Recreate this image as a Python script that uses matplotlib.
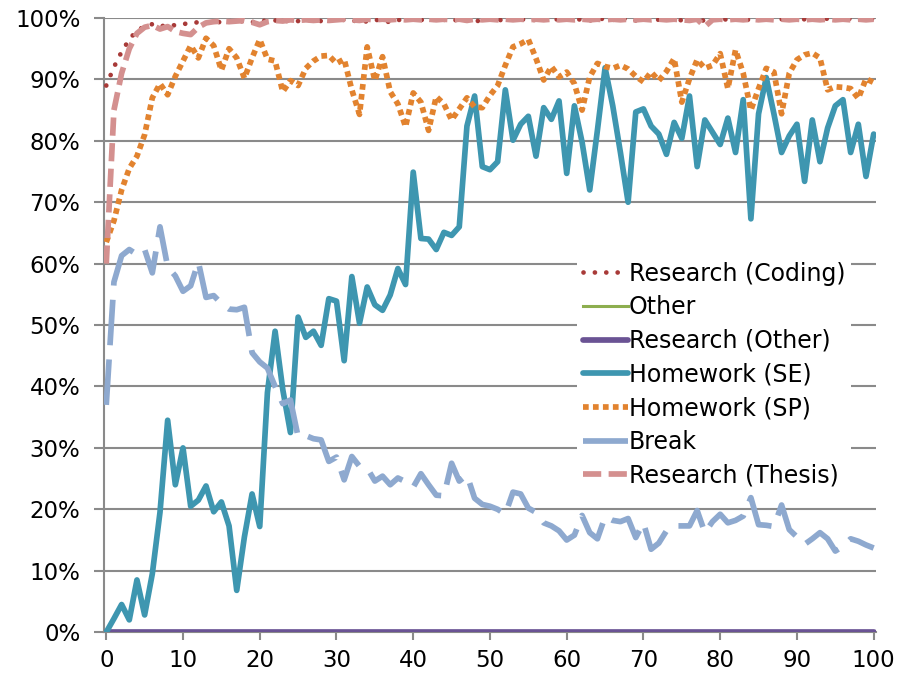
import numpy as np
import matplotlib
matplotlib.use("Agg")
import matplotlib.pyplot as plt

plt.rcParams['font.family'] = ['DejaVu Sans']

x = list(range(0, 101))

research_coding = [89, 92, 94.5, 96.5, 98, 98.6, 99, 98.6, 98.9, 98.8,
                   99.0, 99.2, 99.3, 99.2, 99.4, 99.3, 99.5, 99.4, 99.5, 99.3,
                   99.6, 99.5, 99.6, 99.4, 99.6, 99.5, 99.7, 99.6, 99.5, 99.7,
                   99.6, 99.7, 99.5, 99.6, 99.4, 99.7, 99.6, 99.3, 99.7, 99.6,
                   99.8, 99.7, 99.6, 99.8, 99.7, 99.5, 99.8, 99.7, 99.4, 99.7,
                   99.8, 99.7, 99.6, 99.8, 99.7, 99.9, 99.6, 99.8, 99.7, 99.8,
                   99.9, 99.7, 99.8, 99.6, 99.8, 99.9, 99.7, 99.8, 99.9, 99.6,
                   99.8, 99.9, 99.7, 99.8, 99.9, 99.6, 99.8, 99.9, 99.5, 99.8,
                   99.9, 99.7, 99.8, 99.9, 99.6, 99.8, 99.9, 99.7, 99.8, 99.9,
                   99.6, 99.8, 99.9, 99.7, 99.9, 99.8, 99.7, 99.9, 99.8, 99.7,
                   99.9]

other = [0] * 101
research_other = [0] * 101

homework_se = [0, 2.2, 4.5, 2.0, 8.5, 2.8, 9.5, 19.5, 34.5, 24, 30, 20.5, 21.5, 23.8, 19.6, 21.2, 17.3,
               6.8, 15.5, 22.5, 17.2, 39, 49, 39.5, 32.5, 51.3, 48, 49, 46.7, 54.3,
               53.9, 44.2, 57.9, 50.3, 56.2, 53.3, 52.4, 54.9, 59.2, 56.6,
               74.9, 64.1, 64, 62.3, 65.1, 64.6, 66, 82.4, 87.3, 75.8,
               75.3, 76.6, 88.3, 80.1, 82.7, 84, 77.5, 85.4, 83.5, 86.5,
               74.7, 85.7, 79.8, 72, 81.7, 91.9, 85.7, 78.1, 70, 84.7,
               85.2, 82.4, 81.1, 77.8, 83, 80.4, 87.3, 75.8, 83.4, 81.4,
               79.4, 83.7, 78.1, 86.7, 67.3, 84.4, 90.3, 84.4, 78.1, 80.8,
               82.7, 73.4, 83.4, 76.6, 82.1, 85.7, 86.7, 78.1, 82.7, 74.2,
               81.1]

homework_sp = [63.5, 67, 72, 75.5, 77.5, 81, 87, 89.3, 87.5, 90.5,
               93, 95.5, 93.5, 96.7, 95.5, 91.5, 95, 93.5, 90.2, 93.5,
               96.5, 93.3, 93, 88, 89.8, 89, 91.8, 93, 93.8, 93.9,
               92.6, 93.3, 88.3, 84.3, 95.3, 89.8, 93.7, 88, 86, 82.3,
               87.8, 86.3, 81.7, 87.2, 86, 83.4, 85.2, 87, 85.5, 85.4,
               87.4, 89, 92.3, 95.3, 95.8, 96.5, 93.4, 89.9, 92.1, 90.4,
               91.2, 89.3, 85, 90.4, 92.6, 92.1, 91.8, 92.3, 91.7, 90.5,
               89.6, 91.2, 89.8, 91.3, 93.4, 86.3, 90.1, 93.2, 91.8, 92.3,
               94.2, 88.5, 94.8, 91, 85, 88.5, 91.8, 91.2, 84.4, 91,
               93.2, 94, 94.3, 93.5, 88.3, 88.8, 88.7, 88.5, 86.9, 90.1,
               89.5]

break_ = [37, 57, 61.3, 62.3, 61.5, 62.3, 58.5, 66, 59.5, 58,
          55.5, 56.4, 60.3, 54.5, 54.8, 53.5, 52.6, 52.5, 52.9, 45.5,
          44, 43, 40, 37.2, 37.8, 31.8, 32, 31.5, 31.3, 27.8,
          28.5, 24.8, 28.6, 27, 26.7, 24.6, 25.4, 24, 25.1, 24.5,
          23.6, 25.8, 24, 22.3, 22.2, 27.5, 24.6, 25.6, 21.8, 20.8,
          20.5, 20, 19.2, 22.8, 22.5, 20.2, 19.5, 17.8, 17.3, 16.5,
          15, 15.8, 19, 16.2, 15.2, 18.8, 18.2, 18, 18.5, 15.4,
          17.8, 13.5, 14.5, 16.5, 17.3, 17.3, 17.3, 19.8, 16.2, 18,
          19.2, 17.8, 18.2, 18.9, 21.9, 17.5, 17.4, 17.2, 20.7, 16.7,
          15.5, 14.3, 15.2, 16.2, 15.2, 13.2, 14, 15.2, 14.8, 14.2,
          13.7]

research_thesis = [60, 85, 91, 95, 97.5, 98.5, 98.8, 98.2, 98.6, 97.8,
                   97.5, 97.3, 98.5, 99.2, 99.4, 99.5, 99.4, 99.5, 99.6, 99.3,
                   98.9, 99.4, 99.6, 99.5, 99.7, 99.6, 99.7, 99.6, 99.7, 99.6,
                   99.7, 99.8, 99.7, 99.6, 99.8, 99.7, 99.8, 99.7, 99.8, 99.7,
                   99.8, 99.7, 99.8, 99.7, 99.8, 99.7, 99.8, 99.6, 99.8, 99.7,
                   99.8, 99.7, 99.8, 99.7, 99.8, 99.7, 99.8, 99.7, 99.8, 99.7,
                   99.8, 99.7, 99.8, 99.7, 99.8, 99.7, 99.8, 99.7, 99.8, 99.7,
                   99.8, 99.7, 99.8, 99.7, 99.8, 99.7, 99.6, 99.8, 98.6, 99.7,
                   99.8, 99.7, 99.8, 99.7, 99.8, 99.7, 99.8, 99.7, 99.8, 99.7,
                   99.8, 99.7, 99.8, 99.7, 99.8, 99.7, 99.8, 99.7, 99.8, 99.7,
                   99.8]

fig = plt.figure(figsize=(9.04, 6.79), dpi=100)
ax = fig.add_axes([0.115, 0.069, 0.854, 0.9045])

grid_c = '#8a8a8a'
xs = np.array(x)
LW = 4.1

ax.plot(xs, np.array(research_coding) / 100, color='#A83A38', lw=3.4,
        linestyle=(0, (0.01, 2.4)), dash_capstyle='round', label='Research (Coding)', zorder=3)
ax.plot(xs, np.array(other) / 100, color='#8DAE4F', lw=2.2, label='Other', zorder=3)
ax.plot(xs, np.array(research_other) / 100, color='#6A5394', lw=LW,
        solid_capstyle='round', label='Research (Other)', zorder=3)
ax.plot(xs, np.array(homework_se) / 100, color='#3E96B0', lw=LW,
        solid_capstyle='round', label='Homework (SE)', zorder=3)
ax.plot(xs, np.array(homework_sp) / 100, color='#E2832F', lw=LW,
        linestyle=(0, (1, 0.75)), dash_capstyle='butt', label='Homework (SP)', zorder=3)
ax.plot(xs, np.array(break_) / 100, color='#8EA9CF', lw=LW,
        linestyle=(0, (8, 2.5)), dash_capstyle='butt', label='Break', zorder=3)
ax.plot(xs, np.array(research_thesis) / 100, color='#D4908F', lw=LW,
        linestyle=(0, (3.2, 1.3)), dash_capstyle='butt', label='Research (Thesis)', zorder=3)

ax.set_xlim(-0.3, 100.3)
ax.set_ylim(0, 1.0)
ax.set_xticks(range(0, 101, 10))
ax.set_yticks(np.arange(0, 1.01, 0.1))
ax.set_yticklabels([f'{v}%' for v in range(0, 101, 10)])
ax.grid(axis='y', color=grid_c, lw=1.5, zorder=0)
for s in ['top', 'right']:
    ax.spines[s].set_visible(False)
for s in ['left', 'bottom']:
    ax.spines[s].set_color(grid_c)
    ax.spines[s].set_linewidth(1.5)
ax.tick_params(axis='both', colors=grid_c, labelcolor='black', labelsize=16.5, width=1.5)
ax.tick_params(axis='x', length=6, direction='out', pad=6)
ax.tick_params(axis='y', length=7, direction='out', pad=10)
ax.set_axisbelow(True)

leg = ax.legend(loc='upper left', bbox_to_anchor=(0.6127, 0.613), frameon=True,
                fontsize=17, handlelength=1.9, handletextpad=0.05,
                labelspacing=0.41, borderpad=0.25, borderaxespad=0)
leg.get_frame().set_facecolor('white')
leg.get_frame().set_edgecolor('none')
leg.get_frame().set_alpha(1)
leg.set_zorder(5)

fig.savefig('out.png', dpi=100)
